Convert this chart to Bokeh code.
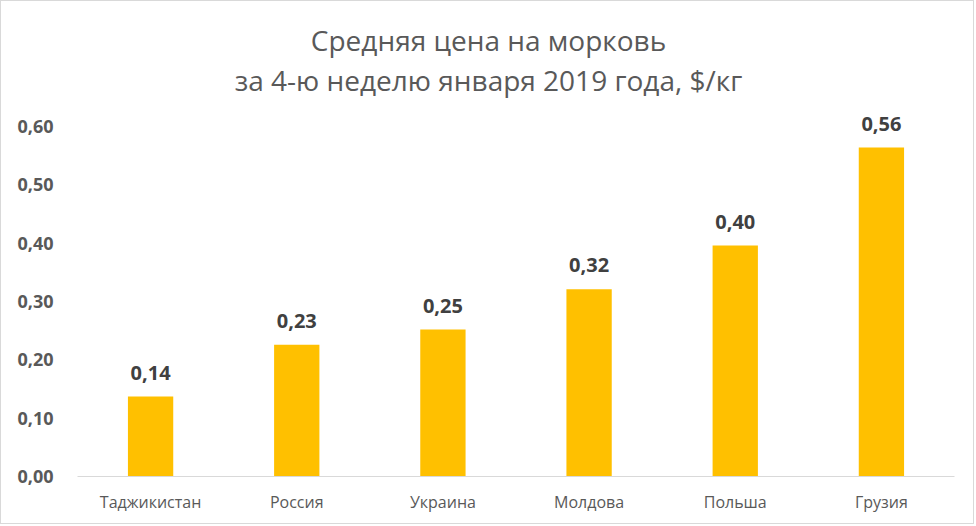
from bokeh.plotting import figure
from bokeh.models import ColumnDataSource, FixedTicker, CustomJSTickFormatter, Range1d
from bokeh.core.properties import value
from bokeh.embed import file_html
from bokeh.resources import INLINE

countries = ["Таджикистан", "Россия", "Украина", "Молдова", "Польша", "Грузия"]
prices = [0.137, 0.226, 0.252, 0.321, 0.396, 0.564]
price_labels = ["0,14", "0,23", "0,25", "0,32", "0,40", "0,56"]
y_ticks = [0.0, 0.1, 0.2, 0.3, 0.4, 0.5, 0.6]
title_lines = ["Средняя цена на морковь", "за 4-ю неделю января 2019 года, $/кг"]

FONT = "Open Sans"
src = ColumnDataSource(dict(x=countries, y=prices, lab=price_labels))

TOP = 8
LEFT = 76
RIGHT = 21
W, H = 974, 524
BOTTOM_Y = 475
PX_PER_UNIT = 583.3
frame_w = W - LEFT - RIGHT
p = figure(x_range=countries, y_range=Range1d(0, (BOTTOM_Y - TOP) / PX_PER_UNIT), width=W, height=H,
           output_backend="svg", toolbar_location=None,
           min_border_left=LEFT, min_border_right=RIGHT, min_border_top=TOP, min_border_bottom=49)
p.styles = {"border": "1px solid #d9d9d9"}
p.outline_line_color = None
p.grid.visible = False
p.background_fill_color = "white"
p.border_fill_color = "white"

# title lines, placed in the (extended) frame, centred on the whole chart
title_cx = (487 - LEFT) / frame_w * len(countries)
title_y = [(BOTTOM_Y - cy) / PX_PER_UNIT for cy in (38, 78)]
p.text(x=[title_cx] * 2, y=title_y, text=title_lines, text_align="center", text_baseline="middle",
       text_font=value(FONT), text_font_size="28px", text_color="#595959")

p.vbar(x="x", top="y", width=0.31, source=src, color="#FFC000", line_color=None)
p.text(x="x", y="y", text="lab", source=src, text_align="center", text_baseline="bottom",
       y_offset=-17, text_font=value(FONT), text_font_size="20px", text_font_style="bold",
       text_color="#404040")

p.yaxis.ticker = FixedTicker(ticks=y_ticks)
p.yaxis.formatter = CustomJSTickFormatter(code="return tick.toFixed(2).replace('.', ',');")
p.yaxis.axis_line_color = None
p.yaxis.major_tick_line_color = None
p.yaxis.minor_tick_line_color = None
p.yaxis.major_label_standoff = 18
p.yaxis.major_label_text_font = FONT
p.yaxis.major_label_text_font_size = "18px"
p.yaxis.major_label_text_font_style = "bold"
p.yaxis.major_label_text_color = "#595959"

p.xaxis.axis_line_color = "#d9d9d9"
p.xaxis.axis_line_width = 1
p.xaxis.major_tick_line_color = None
p.xaxis.minor_tick_line_color = None
p.xaxis.major_label_standoff = 8
p.xaxis.major_label_text_font = FONT
p.xaxis.major_label_text_font_size = "16px"
p.xaxis.major_label_text_color = "#595959"

open("out.html", "w").write(file_html(p, INLINE))
